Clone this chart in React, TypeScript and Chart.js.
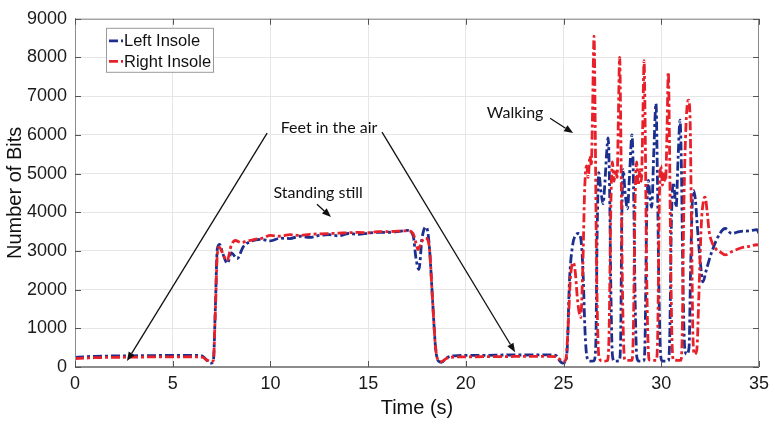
import React, { useEffect, useRef } from "react";
import { Chart, registerables } from "chart.js";

Chart.register(...registerables);

// ---------- data ----------
const seriesNames = ["Left Insole", "Right Insole"];

const leftTime = [
  0, 0.5, 1, 2, 3, 4, 5, 6, 6.5, 6.75, 6.95, 7.08, 7.18, 7.28, 7.4, 7.55, 7.8, 8.0, 8.3, 8.6, 9.0, 9.5, 10, 10.5, 11, 11.5, 12, 12.5, 13, 13.5, 14, 14.5, 15, 15.5, 16, 16.5, 17, 17.3, 17.45, 17.6, 17.75, 17.95, 18.05, 18.15, 18.3, 18.45, 18.6, 18.75, 19.0, 19.4, 20, 21, 22, 23, 24, 24.6, 24.8, 24.95, 25.1, 25.2, 25.3, 25.45, 25.6, 25.76, 25.9, 26.0, 26.1, 26.2, 26.35, 26.55, 26.65, 26.72, 26.8, 26.9, 27.02, 27.12, 27.2, 27.28, 27.35, 27.42, 27.5, 27.6, 27.85, 27.92, 27.98, 28.05, 28.15, 28.27, 28.38, 28.5, 28.58, 28.66, 28.75, 28.85, 29.1, 29.17, 29.25, 29.34, 29.42, 29.51, 29.62, 29.73, 29.8, 29.88, 29.97, 30.05, 30.35, 30.43, 30.52, 30.62, 30.7, 30.76, 30.86, 30.96, 31.03, 31.1, 31.2, 31.3, 31.42, 31.5, 31.6, 31.66, 31.75, 31.85, 32.0, 32.13, 32.3, 32.6, 33.0, 33.27, 33.6, 34.0, 34.5, 34.9, 35,
];
const leftValues = [
  250, 265, 275, 285, 290, 295, 300, 300, 285, 170, 100, 160, 1500, 3050, 3170, 2950, 2680, 2950, 2800, 3100, 3250, 3300, 3260, 3330, 3320, 3380, 3350, 3400, 3420, 3390, 3450, 3430, 3460, 3480, 3480, 3500, 3530, 3400, 2800, 2520, 3300, 3620, 3500, 3000, 1700, 500, 150, 120, 230, 290, 300, 300, 310, 310, 315, 300, 160, 100, 130, 600, 2200, 3100, 3400, 3450, 3250, 2400, 900, 250, 150, 160, 600, 3500, 5025, 4600, 4220, 4800, 5500, 5920, 4800, 2000, 300, 150, 160, 700, 3800, 5100, 4500, 4090, 5000, 6000, 4700, 1800, 250, 150, 160, 700, 3800, 4820, 4400, 4130, 5600, 6810, 5000, 2000, 300, 150, 160, 700, 3800, 4770, 4400, 4130, 5400, 6380, 5200, 2500, 500, 330, 500, 2500, 4400, 4560, 4300, 3600, 2700, 2200, 2500, 3000, 3450, 3580, 3450, 3500, 3520, 3550, 3450,
];

const rightTime = [
  0, 0.5, 1, 2, 3, 4, 5, 6, 6.5, 6.75, 6.95, 7.08, 7.18, 7.28, 7.38, 7.5, 7.78, 8.0, 8.2, 8.5, 8.8, 9.2, 9.6, 10, 10.5, 11, 11.5, 12, 12.5, 13, 13.5, 14, 14.5, 15, 15.5, 16, 16.5, 17, 17.3, 17.45, 17.55, 17.75, 17.9, 18.05, 18.15, 18.3, 18.45, 18.6, 18.75, 19.0, 19.5, 20, 21, 22, 23, 24, 24.6, 24.8, 25.0, 25.12, 25.22, 25.35, 25.5, 25.6, 25.72, 25.88, 25.98, 26.08, 26.18, 26.26, 26.35, 26.42, 26.48, 26.56, 26.62, 26.68, 26.76, 26.85, 27.0, 27.25, 27.33, 27.42, 27.5, 27.58, 27.66, 27.74, 27.8, 27.87, 27.93, 28.0, 28.08, 28.15, 28.5, 28.57, 28.66, 28.74, 28.82, 28.9, 28.98, 29.05, 29.12, 29.18, 29.25, 29.33, 29.4, 29.75, 29.82, 29.9, 29.98, 30.06, 30.14, 30.22, 30.29, 30.36, 30.42, 30.49, 30.56, 30.63, 31.0, 31.07, 31.15, 31.22, 31.3, 31.39, 31.47, 31.55, 31.62, 31.7, 31.82, 31.92, 32.05, 32.16, 32.24, 32.35, 32.45, 32.58, 32.8, 33.0, 33.27, 33.6, 34.03, 34.5, 34.9, 35,
];
const rightValues = [
  220, 230, 240, 250, 255, 260, 260, 265, 255, 180, 140, 170, 1400, 2900, 3100, 3000, 2750, 3150, 3270, 3220, 3250, 3300, 3330, 3400, 3380, 3420, 3400, 3430, 3440, 3450, 3460, 3470, 3480, 3470, 3500, 3500, 3510, 3520, 3450, 3200, 3035, 3250, 3330, 3290, 3000, 1700, 500, 170, 140, 220, 260, 260, 270, 270, 275, 275, 270, 200, 140, 200, 900, 2300, 2700, 2450, 1700, 1280, 2500, 4600, 5200, 4900, 5450, 5200, 6500, 8550, 6200, 3000, 700, 200, 150, 170, 900, 4200, 5300, 4800, 5100, 4900, 6300, 8000, 6000, 2500, 500, 180, 170, 900, 4300, 5300, 4700, 5100, 4800, 6200, 7920, 6000, 2500, 500, 180, 170, 900, 4300, 5200, 4700, 5000, 4800, 6000, 7620, 5800, 2500, 500, 180, 170, 800, 4000, 5600, 6600, 6900, 6500, 3500, 800, 330, 450, 1800, 3700, 4300, 4390, 4000, 3500, 3240, 3050, 2980, 2900, 2980, 3070, 3120, 3160, 3150,
];

const xTickValues = [0, 5, 10, 15, 20, 25, 30, 35];
const yTickValues = [0, 1000, 2000, 3000, 4000, 5000, 6000, 7000, 8000, 9000];

// annotations in data coordinates
const labelTexts = ["Feet in the air", "Standing still", "Walking"];
const labelX = [13.0, 12.44, 22.52];
const labelY = [6170, 4490, 6582];
const arrowFromX = [9.83, 15.71, 12.38, 24.31];
const arrowFromY = [6046, 6071, 4209, 6429];
const arrowToX = [2.66, 22.52, 13.1, 25.49];
const arrowToY = [153, 383, 3878, 6046];

// ---------- style ----------
const BLUE = "#1c2f8e";
const RED = "#e8202a";
const DASH = [9, 3, 3, 3];
const LINE_W = 2.8;
const AXIS_FONT = "'Liberation Sans', Arial, Helvetica, sans-serif";
const NOTE_FONT = "Lato, 'Open Sans', sans-serif";

function drawArrow(ctx: CanvasRenderingContext2D, x1: number, y1: number, x2: number, y2: number) {
  const ang = Math.atan2(y2 - y1, x2 - x1);
  const head = 9;
  const half = 3.5;
  const bx = x2 - head * Math.cos(ang);
  const by = y2 - head * Math.sin(ang);
  ctx.beginPath();
  ctx.moveTo(x1, y1);
  ctx.lineTo(bx, by);
  ctx.stroke();
  ctx.beginPath();
  ctx.moveTo(x2, y2);
  ctx.lineTo(bx + half * Math.sin(ang), by - half * Math.cos(ang));
  ctx.lineTo(bx - half * Math.sin(ang), by + half * Math.cos(ang));
  ctx.closePath();
  ctx.fill();
}

const bgPlugin = {
  id: "bg",
  beforeDraw(chart: any) {
    const { ctx, width, height } = chart;
    ctx.save();
    ctx.fillStyle = "#ffffff";
    ctx.fillRect(0, 0, width, height);
    ctx.restore();
  },
};

const overlayPlugin = {
  id: "overlay",
  afterDraw(chart: any) {
    const { ctx, chartArea, scales } = chart;
    const xs = scales.x;
    const ys = scales.y;
    const { left, right, top, bottom } = chartArea;
    ctx.save();

    // box + inward ticks
    ctx.strokeStyle = "#8c8c8c";
    ctx.lineWidth = 1;
    ctx.strokeRect(left + 0.5, top + 0.5, right - left - 1, bottom - top - 1);
    ctx.strokeStyle = "#555";
    ctx.beginPath();
    for (const v of xTickValues) {
      const px = Math.round(xs.getPixelForValue(v)) + 0.5;
      ctx.moveTo(px, bottom);
      ctx.lineTo(px, bottom - 6);
      ctx.moveTo(px, top);
      ctx.lineTo(px, top + 6);
    }
    for (const v of yTickValues) {
      const py = Math.round(ys.getPixelForValue(v)) + 0.5;
      ctx.moveTo(left, py);
      ctx.lineTo(left + 6, py);
      ctx.moveTo(right, py);
      ctx.lineTo(right - 6, py);
    }
    ctx.stroke();

    // arrows
    ctx.strokeStyle = "#111";
    ctx.fillStyle = "#111";
    ctx.lineWidth = 1.3;
    for (let i = 0; i < arrowFromX.length; i++) {
      drawArrow(
        ctx,
        xs.getPixelForValue(arrowFromX[i]),
        ys.getPixelForValue(arrowFromY[i]),
        xs.getPixelForValue(arrowToX[i]),
        ys.getPixelForValue(arrowToY[i])
      );
    }

    // labels
    ctx.font = `16px ${NOTE_FONT}`;
    ctx.textAlign = "center";
    ctx.textBaseline = "middle";
    ctx.fillStyle = "#111";
    for (let i = 0; i < labelTexts.length; i++) {
      const px = xs.getPixelForValue(labelX[i]);
      const py = ys.getPixelForValue(labelY[i]);
      ctx.fillText(labelTexts[i], px, py);
    }

    // legend
    const lx = left + 31;
    const ly = top + 9;
    const lw = 107;
    const lh = 44;
    ctx.fillStyle = "#ffffff";
    ctx.fillRect(lx, ly, lw, lh);
    ctx.strokeStyle = "#9a9a9a";
    ctx.lineWidth = 1;
    ctx.strokeRect(lx + 0.5, ly + 0.5, lw, lh);
    const colors = [BLUE, RED];
    ctx.font = `16.5px ${AXIS_FONT}`;
    ctx.textAlign = "left";
    ctx.textBaseline = "middle";
    for (let i = 0; i < seriesNames.length; i++) {
      const cy = ly + 13 + i * 20.5;
      ctx.strokeStyle = colors[i];
      ctx.lineWidth = LINE_W;
      ctx.setLineDash(DASH);
      ctx.beginPath();
      ctx.moveTo(lx + 3, cy);
      ctx.lineTo(lx + 17, cy);
      ctx.stroke();
      ctx.setLineDash([]);
      ctx.fillStyle = "#111";
      ctx.fillText(seriesNames[i], lx + 18, cy + 1);
    }
    ctx.restore();
  },
};

export default function App() {
  const ref = useRef<HTMLCanvasElement | null>(null);

  useEffect(() => {
    if (!ref.current) return;
    const leftData = leftTime.map((t, i) => ({ x: t, y: leftValues[i] }));
    const rightData = rightTime.map((t, i) => ({ x: t, y: rightValues[i] }));
    const chart = new Chart(ref.current, {
      type: "line",
      data: {
        datasets: [
          {
            label: seriesNames[0],
            data: leftData,
            borderColor: BLUE,
            backgroundColor: BLUE,
            borderWidth: LINE_W,
            borderDash: DASH,
            pointRadius: 0,
            cubicInterpolationMode: "monotone",
            order: 1,
          },
          {
            label: seriesNames[1],
            data: rightData,
            borderColor: RED,
            backgroundColor: RED,
            borderWidth: LINE_W,
            borderDash: DASH,
            pointRadius: 0,
            cubicInterpolationMode: "monotone",
            order: 0,
          },
        ],
      },
      options: {
        animation: false,
        responsive: true,
        maintainAspectRatio: false,
        layout: { padding: { top: 14, right: 15, left: 0, bottom: 0 } },
        plugins: { legend: { display: false }, tooltip: { enabled: false } },
        scales: {
          x: {
            type: "linear",
            min: 0,
            max: 35,
            afterBuildTicks: (s: any) => {
              s.ticks = xTickValues.map((v) => ({ value: v }));
            },
            afterFit: (s: any) => {
              s.height = 58;
            },
            grid: { color: "#e6e6e6", drawTicks: false },
            border: { color: "#8c8c8c" },
            ticks: {
              padding: 6,
              color: "#1a1a1a",
              font: { family: AXIS_FONT, size: 18 },
              maxRotation: 0,
              autoSkip: false,
              callback: (v: any) => String(v),
            },
            title: {
              display: true,
              text: "Time (s)",
              color: "#111",
              font: { family: AXIS_FONT, size: 20 },
              padding: { top: 0, bottom: 5 },
            },
          },
          y: {
            type: "linear",
            min: 0,
            max: 9000,
            afterBuildTicks: (s: any) => {
              s.ticks = yTickValues.map((v) => ({ value: v }));
            },
            afterFit: (s: any) => {
              s.width = 75;
            },
            grid: { color: "#e6e6e6", drawTicks: false },
            border: { color: "#8c8c8c" },
            ticks: {
              padding: 8,
              color: "#1a1a1a",
              font: { family: AXIS_FONT, size: 18 },
              autoSkip: false,
              callback: (v: any) => String(v),
            },
            title: {
              display: true,
              text: "Number of Bits",
              color: "#111",
              font: { family: AXIS_FONT, size: 20 },
              padding: { top: 3, bottom: 0 },
            },
          },
        },
      },
      plugins: [bgPlugin, overlayPlugin],
    } as any);
    return () => chart.destroy();
  }, []);

  return (
    <div style={{ position: "fixed", left: 0, top: 0, width: 775, height: 425 }}>
      <canvas ref={ref} />
    </div>
  );
}
